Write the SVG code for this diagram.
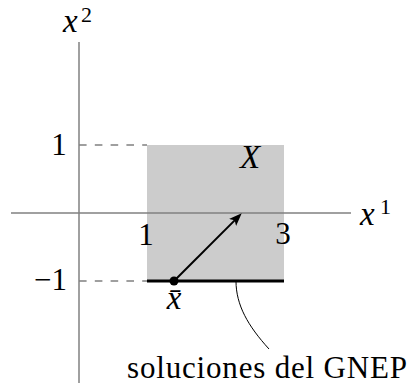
<svg xmlns="http://www.w3.org/2000/svg" width="410" height="390" viewBox="0 0 410 390">
<style>
.ax{stroke:#808080;stroke-width:1.5;fill:none}
.dash{stroke:#808080;stroke-width:1.4;stroke-dasharray:7.6 8.2;fill:none}
.t{font-family:"Liberation Serif","Times New Roman",serif;font-size:31px;fill:#000}
.i{font-style:italic}
.m{font-size:33px}
.sup{font-size:22px}
.lb{font-size:31px}
</style>
<defs>
<marker id="ah" markerUnits="userSpaceOnUse" viewBox="0 0 13 10" refX="9" refY="5" markerWidth="13" markerHeight="10" orient="auto">
<path d="M0,0 L13,5 L0,10 L3,5 z" fill="#000"/>
</marker>
</defs>
<g id="region-X">
<rect x="147" y="145" width="137" height="136" fill="#cccccc"/>
<text class="t i m" x="240" y="168">X</text>
</g>
<g id="axes">
<line class="ax" x1="11" y1="213" x2="351" y2="213"/>
<line class="ax" x1="79" y1="42" x2="79" y2="383"/>
<text class="t i m" x="63" y="32">x</text>
<text class="t sup" x="81" y="22">2</text>
<text class="t i m" x="360" y="225">x</text>
<text class="t sup" x="380" y="214">1</text>
</g>
<g id="ticks">
<line class="dash" x1="79" y1="145" x2="147" y2="145"/>
<line class="dash" x1="79" y1="281" x2="147" y2="281"/>
<text class="t" x="59" y="155" text-anchor="middle">1</text>
<text class="t" x="67" y="290" text-anchor="end">−1</text>
<text class="t" x="146" y="245" text-anchor="middle">1</text>
<text class="t" x="283" y="244" text-anchor="middle">3</text>
</g>
<g id="solutions">
<line x1="147" y1="281" x2="284" y2="281" stroke="#000" stroke-width="3"/>
</g>
<g id="connectors">
<line x1="174" y1="281" x2="238.9" y2="216.1" stroke="#000" stroke-width="2" marker-end="url(#ah)"/>
<path d="M236,281 C236,305 248,326 269,349" stroke="#000" stroke-width="1" fill="none"/>
</g>
<g id="xbar">
<circle cx="174" cy="281" r="4.5" fill="#000"/>
<text class="t i m" x="174" y="309" text-anchor="middle">x̄</text>
</g>
<g id="label">
<text class="t lb" x="127" y="378" textLength="280" lengthAdjust="spacing">soluciones del GNEP</text>
</g>
</svg>
